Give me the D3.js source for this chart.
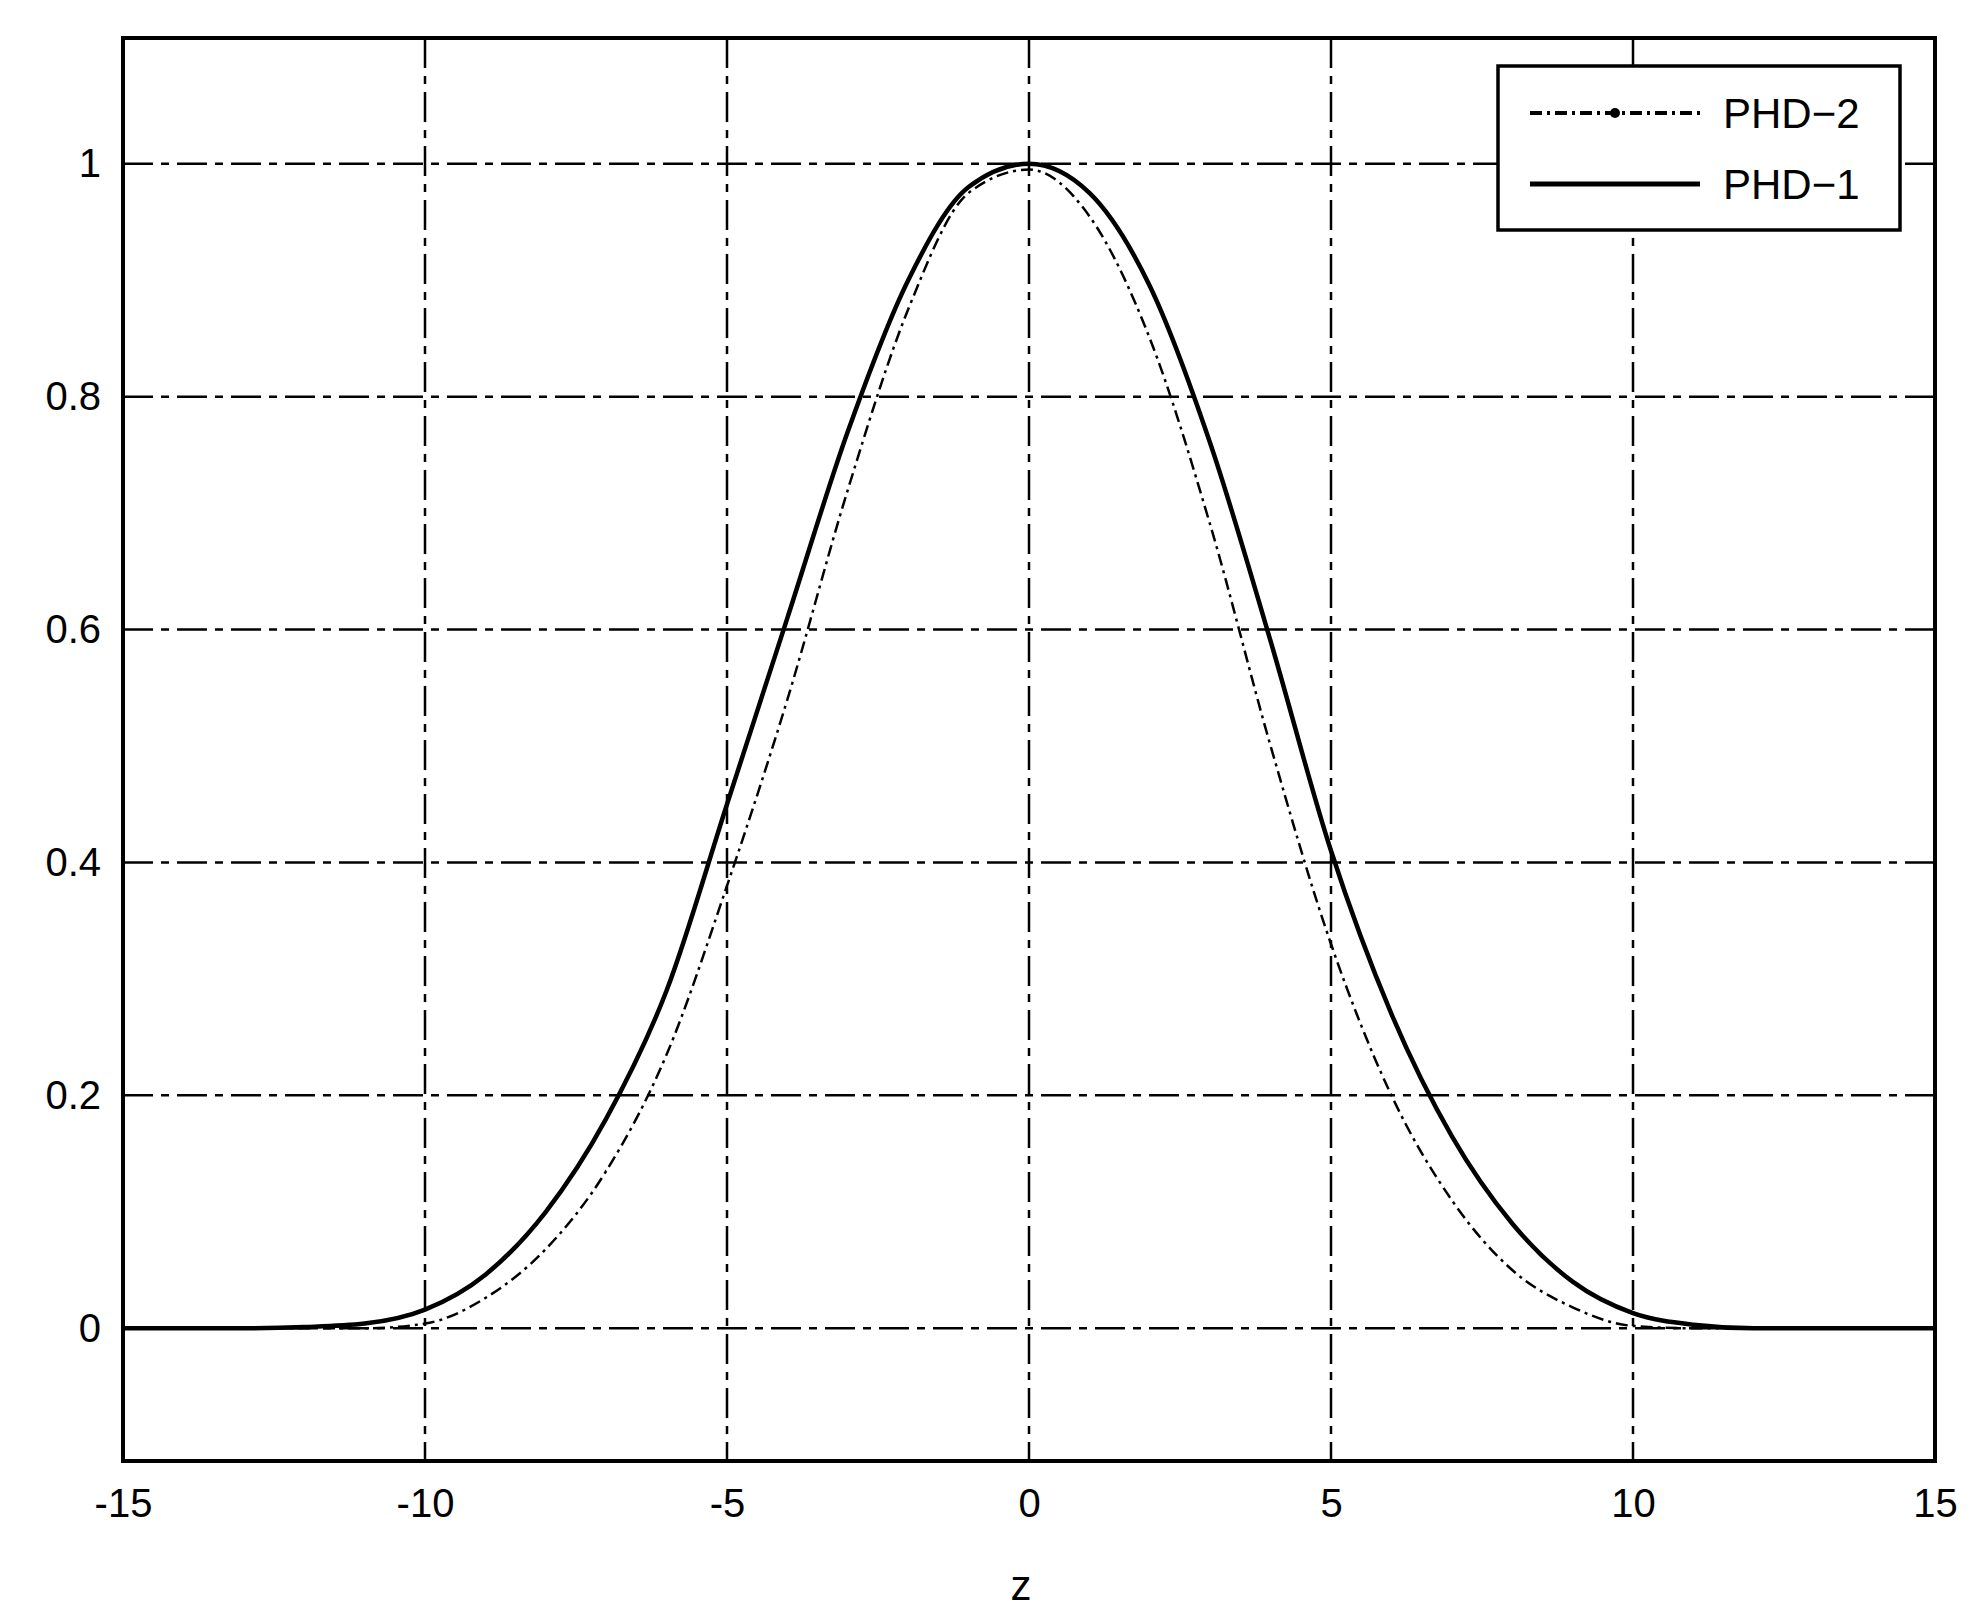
<!DOCTYPE html><html><head><meta charset="utf-8"><script src="https://d3js.org/d3.v7.min.js"></script>
<style>body{margin:0;background:#fff}text{font-family:"Liberation Sans",Arial,sans-serif;fill:#000}</style></head><body><svg id="c" width="1986" height="1622"></svg><script>
const zValues=[-15,-14,-13,-12,-11,-10,-9,-8,-7,-6,-5,-4,-3,-2,-1,0,1,2,3,4,5,6,7,8,9,10,11,12,13,14,15];
const phd1=[0,0,0,0.001,0.004,0.016,0.046,0.1,0.18,0.29,0.45,0.61,0.77,0.9,0.98,1.0,0.975,0.895,0.76,0.59,0.41,0.27,0.165,0.09,0.04,0.013,0.003,0,0,0,0];
const phd2=[0,0,0,0,0,0.004,0.026,0.068,0.135,0.235,0.38,0.54,0.72,0.875,0.975,0.995,0.955,0.85,0.69,0.5,0.33,0.2,0.11,0.05,0.018,0.002,0,0,0,0,0];
const xTicks=[-15,-10,-5,0,5,10,15];
const yTicks=[0,0.2,0.4,0.6,0.8,1];
const L=123,R=1935,T=38,B=1461;
const svg=d3.select("#c");
const x=d3.scaleLinear().domain([-15,15]).range([L,R]);
const y=d3.scaleLinear().domain([-0.114,1.108]).range([B,T]);
const grid="30,8,8,8";
svg.append("g").selectAll("line").data(xTicks.slice(1,-1)).join("line").attr("x1",d=>x(d)).attr("x2",d=>x(d)).attr("y1",T).attr("y2",B).attr("stroke","#000").attr("stroke-width",2.5).attr("stroke-dasharray",grid);
svg.append("g").selectAll("line").data(yTicks).join("line").attr("y1",d=>y(d)).attr("y2",d=>y(d)).attr("x1",L).attr("x2",R).attr("stroke","#000").attr("stroke-width",2.5).attr("stroke-dasharray",grid);
const line=d3.line().x((d,i)=>x(zValues[i])).y(d=>y(d)).curve(d3.curveMonotoneX);
svg.append("path").attr("d",line(phd2)).attr("fill","none").attr("stroke","#000").attr("stroke-width",2.5).attr("stroke-dasharray","12,5,3,5");
svg.append("path").attr("d",line(phd1)).attr("fill","none").attr("stroke","#000").attr("stroke-width",4.5);
svg.append("rect").attr("x",L).attr("y",T).attr("width",R-L).attr("height",B-T).attr("fill","none").attr("stroke","#000").attr("stroke-width",4);
const fmt=d=>String(d);
svg.append("g").attr("transform",`translate(0,${B})`).call(d3.axisBottom(x).tickValues(xTicks).tickSize(0).tickPadding(28).tickFormat(fmt)).call(g=>{g.select(".domain").remove();g.selectAll("text").attr("font-size",40).style("font-family","Liberation Sans")});
svg.append("g").attr("transform",`translate(${L},0)`).call(d3.axisLeft(y).tickValues(yTicks).tickSize(0).tickPadding(22).tickFormat(fmt)).call(g=>{g.select(".domain").remove();g.selectAll("text").attr("font-size",40).style("font-family","Liberation Sans")});
svg.append("text").attr("x",(L+R)/2-8).attr("y",1600).attr("text-anchor","middle").attr("font-size",42).text("z");
const lg=svg.append("g");
lg.append("rect").attr("x",1498).attr("y",66).attr("width",402).attr("height",164).attr("fill","#fff").attr("stroke","#000").attr("stroke-width",3.5);
lg.append("line").attr("x1",1530).attr("x2",1700).attr("y1",113).attr("y2",113).attr("stroke","#000").attr("stroke-width",4).attr("stroke-dasharray","12,5,3,5");
lg.append("circle").attr("cx",1615).attr("cy",113).attr("r",5).attr("fill","#000");
lg.append("line").attr("x1",1530).attr("x2",1700).attr("y1",184).attr("y2",184).attr("stroke","#000").attr("stroke-width",5);
lg.append("text").attr("x",1723).attr("y",128).attr("font-size",42).text("PHD−2");
lg.append("text").attr("x",1723).attr("y",199).attr("font-size",42).text("PHD−1");
</script></body></html>
